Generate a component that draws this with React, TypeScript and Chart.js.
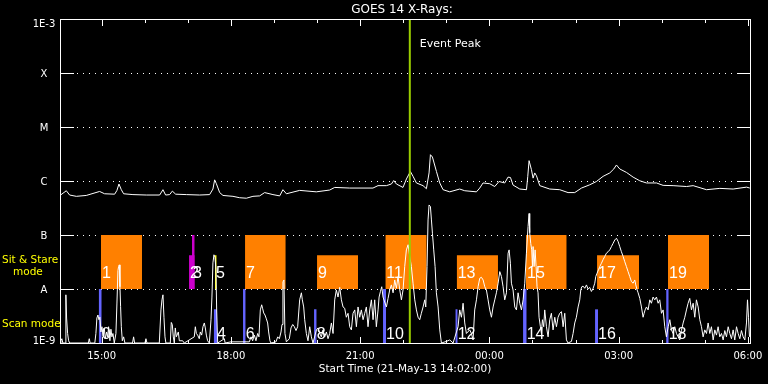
import React, { useEffect, useRef } from 'react';
import { Chart, registerables } from 'chart.js';

Chart.register(...registerables);

// ---- axis definitions (minutes after start 21-May-13 14:02:00) ----
const X_MIN = 0;
const X_MAX = 961;
const xMajorMinutes = [58, 238, 418, 598, 778, 958];
const xTickLabels = ['15:00', '18:00', '21:00', '00:00', '03:00', '06:00'];
const yTickValues = [1e-9, 1e-8, 1e-7, 1e-6, 1e-5, 1e-4, 1e-3];
const yTickLabels = ['1E-9', 'A', 'B', 'C', 'M', 'X', '1E-3'];

// ---- GOES long channel (1-8 A) ----
const longTimes = [
  0, 8.8, 13.4, 22.7, 36.6, 55.2, 62.1, 76.1, 79.3, 82.1,
  85.4, 88.6, 101.6, 120.2, 138.8, 143.4, 147.1, 152.7, 156.5, 161.1,
  176, 194.5, 208.4, 213, 215.4, 217.8, 222.4, 227, 240.9, 250.2,
  259.6, 268.7, 278.1, 285, 296.6, 306, 310.5, 315.3, 333.8, 357,
  375.6, 382.6, 403.5, 435.9, 442.9, 454.6, 461.6, 464.8, 468.5, 477.7,
  482.5, 488, 491.7, 496.4, 505.6, 510.3, 514, 515.9, 518.7, 524.3,
  528.9, 533.5, 542.8, 556.7, 563.7, 580, 584.6, 589.2, 598.5, 605.5,
  611.5, 619.4, 624, 627.4, 631, 640.4, 649.7, 651.5, 653.3, 656.6,
  658.9, 661.2, 663.6, 668.2, 682.1, 696, 707.6, 716.9, 726.3, 737.8,
  747.2, 756.4, 765.7, 771.3, 775, 779.6, 789, 798.2, 807.5, 816.8,
  830.8, 840, 853.9, 872.6, 881.8, 900.4, 919, 937.5, 956.2, 960.7,
];
const longFlux = [
  5.4e-7, 6.6e-7, 5.5e-7, 5.2e-7, 5.4e-7, 6.4e-7, 5.8e-7, 5.7e-7, 6.7e-7, 8.8e-7,
  6.9e-7, 5.8e-7, 5.6e-7, 5.5e-7, 5.5e-7, 6.9e-7, 5.5e-7, 5.6e-7, 6.5e-7, 5.7e-7,
  5.6e-7, 5.5e-7, 5.6e-7, 7.1e-7, 1.05e-6, 8.9e-7, 6.1e-7, 5.4e-7, 5.2e-7, 4.9e-7,
  4.8e-7, 5.2e-7, 5.3e-7, 6.1e-7, 5.6e-7, 5.3e-7, 6.9e-7, 5.8e-7, 6.7e-7, 6.3e-7,
  6.8e-7, 7.6e-7, 7.4e-7, 7.4e-7, 8.2e-7, 8.2e-7, 8.8e-7, 1.02e-6, 8.8e-7, 7.6e-7,
  1.09e-6, 1.5e-6, 1.22e-6, 9.2e-7, 8.2e-7, 7.2e-7, 1.41e-6, 3.07e-6, 2.78e-6, 1.5e-6,
  9.2e-7, 6.9e-7, 6.3e-7, 7.1e-7, 6.6e-7, 6.3e-7, 7.4e-7, 9.2e-7, 8.9e-7, 7.9e-7,
  9.8e-7, 9.2e-7, 1.18e-6, 1.16e-6, 8.4e-7, 7.1e-7, 6.9e-7, 1.22e-6, 2.38e-6, 1.62e-6,
  1.13e-6, 1.41e-6, 1.25e-6, 8.2e-7, 7.1e-7, 6.9e-7, 6.1e-7, 6.1e-7, 7.4e-7, 8.5e-7,
  9.8e-7, 1.22e-6, 1.41e-6, 1.67e-6, 1.98e-6, 1.67e-6, 1.44e-6, 1.18e-6, 1.01e-6, 9.2e-7,
  9.2e-7, 8.3e-7, 8.2e-7, 7.9e-7, 8.2e-7, 6.9e-7, 7.3e-7, 7.1e-7, 7.7e-7, 7.4e-7,
];

// ---- GOES short channel (0.5-4 A) ----
const shortTimes = [
  0, 1.3, 2.6, 4, 7, 8.2, 9.2, 10.6, 12, 13.4,
  39.5, 40.8, 42, 48.5, 50, 51.4, 52.8, 54.2, 55.6, 57,
  58.4, 60.3, 61.7, 63.1, 64.9, 66.3, 67.7, 69.5, 70.9, 72.3,
  73.7, 75.6, 77.9, 79.3, 80.7, 81.6, 82.6, 83.5, 84.4, 85.4,
  86.8, 88.6, 90.4, 101, 102.5, 103.9, 118.3, 119.7, 121.1, 138.3,
  140.6, 142, 143.4, 144.8, 146.2, 147.5, 153.6, 155, 156.4, 157.8,
  159.2, 160.6, 162, 164.8, 166.2, 170.8, 173.1, 187, 188.5, 189.9,
  191.7, 194, 195.4, 197.3, 199.1, 201, 202.4, 203.8, 205.6, 208,
  210.3, 211.6, 213, 214.4, 215.8, 217.2, 218.2, 219.6, 228.9, 230,
  238.1, 263.7, 266, 268.3, 270.7, 272.9, 275.3, 277.1, 279, 280.9,
  282.3, 283.7, 285.5, 287.4, 289.2, 290.6, 292.4, 293.8, 300.8, 303.2,
  305.5, 307.8, 309.2, 310.5, 311.9, 313.3, 315.3, 319.4, 321.7, 324.1,
  326.4, 328.7, 331, 333.8, 336.2, 337.5, 339.4, 340.8, 343.1, 345.4,
  347.8, 350.1, 352.4, 357.1, 359.4, 361.7, 364, 366.3, 368.7, 371,
  373.3, 375.6, 378, 380.3, 382.6, 384.9, 387.2, 389.6, 391.9, 394.2,
  396.5, 398.8, 401.2, 403.5, 405.8, 408.1, 410.5, 412.8, 415.1, 417.4,
  419.7, 422.1, 424.4, 426.7, 429, 431.4, 433.7, 436, 438.3, 440.6,
  443, 444.4, 446.2, 448.1, 449.9, 454.6, 456.9, 459.2, 461.5, 463.9,
  466.2, 468.5, 470.8, 473.2, 475.5, 477.8, 480.1, 482.4, 484.8, 487.1,
  489.4, 491.7, 494.1, 496.4, 498.7, 501, 503.3, 505.7, 508, 509.4,
  511.2, 512.6, 514, 515.9, 517.3, 518.7, 520.5, 522.4, 524.2, 526.6,
  528.9, 531.2, 538.2, 542.8, 547.5, 554.4, 556.7, 559.1, 561.4, 563.7,
  566, 570.7, 573, 575.3, 577.6, 580, 582.3, 584.6, 586.9, 589.3,
  591.6, 593.9, 596.2, 598.5, 600.9, 603.2, 605.5, 607.8, 610.2, 612.5,
  614.8, 617.1, 619.4, 621.8, 624.1, 625.5, 627.3, 628.7, 631, 633.4,
  635.7, 638, 640.3, 642.7, 645, 647.3, 649.6, 651.9, 653.3, 654.2,
  655.6, 657, 658, 658.9, 660.3, 661.7, 663.1, 664.4, 665.8, 667.2,
  669.1, 670.5, 671.9, 673.7, 675.1, 677.5, 679.8, 682.1, 684.4, 686.7,
  689.1, 691.4, 693.7, 696, 698.4, 700.7, 703, 705.3, 707.6, 712.3,
  714.6, 716.9, 719.2, 721.6, 723.9, 725.3, 726.7, 728.5, 730.9, 733.2,
  735.5, 737.8, 740.1, 742.5, 744.8, 746.2, 748, 749.9, 751.8, 754.1,
  756.4, 758.7, 761, 763.4, 765.7, 768, 770.3, 772.7, 775, 777.3,
  779.6, 781.9, 784.3, 786.6, 788.9, 791.2, 793.5, 795.9, 798.2, 800.5,
  801.9, 803.8, 805.2, 807.5, 809.8, 812.1, 813.5, 814.9, 816.8, 819.1,
  821.4, 823.7, 826, 828.4, 830.7, 833, 835.3, 837.7, 840, 842.3,
  844.6, 847, 849.3, 851.6, 853.9, 856.2, 858.6, 860.9, 863.2, 865.5,
  867.9, 870.2, 872.5, 874.8, 877.1, 879.5, 881.8, 884.1, 886.4, 888.8,
  891.1, 893.4, 895.7, 898, 900.4, 902.7, 905, 907.3, 909.7, 912,
  914.3, 916.6, 918.9, 921.3, 923.6, 925.9, 928.2, 930.6, 932.9, 935.2,
  937.5, 939.8, 942.2, 944.5, 946.8, 949.1, 951.5, 953.8, 956.1, 957.5,
  958.9, 960.3,
];
const shortFlux = [
  1.0e-9, 1.1e-9, 1.2e-9, 1.0e-9, 1.0e-9, 7.8e-9, 2.9e-9, 1.5e-9, 1.1e-9, 1.0e-9,
  1.0e-9, 1.2e-9, 1.0e-9, 1.0e-9, 1.5e-9, 2.9e-9, 3.3e-9, 2.7e-9, 3.0e-9, 1.6e-9,
  2.0e-9, 1.3e-9, 1.9e-9, 1.2e-9, 1.6e-9, 1.3e-9, 2.0e-9, 1.1e-9, 1.8e-9, 1.3e-9,
  1.5e-9, 1.0e-9, 1.5e-9, 5.5e-9, 2.2e-8, 2.6e-8, 2.8e-8, 1.1e-8, 4.7e-9, 2.0e-9,
  1.1e-9, 1.3e-9, 1.0e-9, 1.0e-9, 1.3e-9, 1.0e-9, 1.0e-9, 1.2e-9, 1.0e-9, 1.0e-9,
  4.1e-9, 6.3e-9, 7.8e-9, 3.0e-9, 1.3e-9, 1.0e-9, 1.0e-9, 2.4e-9, 2.2e-9, 1.3e-9,
  1.0e-9, 1.9e-9, 1.3e-9, 1.6e-9, 1.1e-9, 1.1e-9, 1.0e-9, 1.3e-9, 2.0e-9, 1.5e-9,
  1.4e-9, 1.2e-9, 1.6e-9, 1.4e-9, 2.0e-9, 2.35e-9, 1.9e-9, 1.4e-9, 1.1e-9, 1.0e-9,
  2.7e-9, 7.1e-9, 3.05e-8, 4.3e-8, 3.9e-8, 2.3e-8, 4.1e-9, 1.0e-9, 1.2e-9, 1.0e-9,
  1.05e-9, 1.05e-9, 1.3e-9, 1.1e-9, 1.4e-9, 1.1e-9, 1.5e-9, 1.3e-9, 4.1e-9, 5.1e-9,
  4.3e-9, 3.6e-9, 3.3e-9, 2.8e-9, 2.35e-9, 1.6e-9, 1.1e-9, 1.0e-9, 1.05e-9, 1.3e-9,
  1.2e-9, 1.6e-9, 2.2e-9, 1.35e-8, 1.47e-8, 1.5e-9, 1.05e-9, 1.2e-9, 1.9e-9, 2.2e-9,
  2.0e-9, 1.7e-9, 2.0e-9, 6.3e-9, 8.5e-9, 6.3e-9, 4.65e-9, 2.7e-9, 1.5e-9, 1.1e-9,
  2.0e-9, 1.3e-9, 1.0e-9, 1.75e-9, 1.9e-9, 1.5e-9, 1.3e-9, 1.75e-9, 1.3e-9, 1.6e-9,
  1.2e-9, 1.5e-9, 2.35e-9, 1.5e-9, 6.3e-9, 9.6e-9, 7.1e-9, 1.07e-8, 6.3e-9, 4.65e-9,
  4.4e-9, 3.0e-9, 3.55e-9, 2.0e-9, 1.75e-9, 3.55e-9, 4.1e-9, 2.0e-9, 4.65e-9, 3.0e-9,
  4.1e-9, 2.7e-9, 3.55e-9, 4.65e-9, 2.0e-9, 4.1e-9, 6.3e-9, 2.7e-9, 6.3e-9, 2.0e-9,
  4.1e-9, 7.1e-9, 8.9e-9, 1.1e-8, 7.1e-9, 4.65e-9, 6.7e-9, 9.6e-9, 1.19e-8, 8.5e-9,
  1.47e-8, 1.03e-8, 1.7e-8, 9.6e-9, 6.3e-9, 9.6e-9, 2.6e-8, 5.3e-8, 6.6e-8, 4.0e-8,
  2.6e-8, 1.28e-8, 6.3e-9, 4.1e-9, 3.0e-9, 2.7e-9, 3.55e-9, 4.65e-9, 6.3e-9, 4.65e-9,
  2.6e-8, 1.9e-7, 3.6e-7, 3.37e-7, 1.9e-7, 1.08e-7, 5.3e-8, 2.6e-8, 8.5e-9, 4.65e-9,
  1.75e-9, 1.0e-9, 1.07e-9, 1.14e-9, 1.0e-9, 2.0e-9, 4.1e-9, 3.0e-9, 5.45e-9, 2.35e-9,
  1.5e-9, 1.75e-9, 1.5e-9, 1.14e-9, 4.1e-9, 6.3e-9, 1.1e-8, 1.58e-8, 1.65e-8, 1.47e-8,
  1.1e-8, 9.6e-9, 6.3e-9, 4.1e-9, 3.0e-9, 4.65e-9, 6.3e-9, 8.5e-9, 1.28e-8, 2.1e-8,
  1.7e-8, 1.1e-8, 6.3e-9, 8.5e-9, 4.6e-8, 5.3e-8, 3.0e-8, 1.28e-8, 9.6e-9, 4.65e-9,
  4.1e-9, 8.5e-9, 5.45e-9, 4.1e-9, 6.3e-9, 1.28e-8, 4.6e-8, 1.43e-7, 2.5e-7, 1.1e-7,
  7.0e-8, 5.3e-8, 2.6e-8, 6.1e-8, 2.6e-8, 5.3e-8, 2.6e-8, 1.1e-8, 8.5e-9, 3.0e-9,
  2.0e-9, 1.5e-9, 2.7e-9, 2.0e-9, 4.1e-9, 2.0e-9, 1.3e-9, 2.7e-9, 3.55e-9, 1.75e-9,
  3.0e-9, 2.0e-9, 3.0e-9, 3.55e-9, 3.8e-9, 2.0e-9, 3.55e-9, 1.14e-9, 1.0e-9, 1.07e-9,
  1.5e-9, 2.35e-9, 3.0e-9, 4.65e-9, 6.3e-9, 9.6e-9, 1.1e-8, 1.13e-8, 1.03e-8, 1.19e-8,
  1.0e-8, 1.07e-8, 9.0e-9, 1.03e-8, 1.28e-8, 1.7e-8, 1.96e-8, 2.26e-8, 2.6e-8, 3.0e-8,
  3.5e-8, 4.0e-8, 4.6e-8, 4.9e-8, 5.3e-8, 6.1e-8, 7.0e-8, 8.1e-8, 8.7e-8, 7.6e-8,
  6.1e-8, 4.9e-8, 4.0e-8, 3.2e-8, 2.6e-8, 2.1e-8, 1.7e-8, 1.37e-8, 1.28e-8, 1.47e-8,
  1.19e-8, 9.6e-9, 8.5e-9, 6.7e-9, 4.65e-9, 3.0e-9, 3.55e-9, 4.1e-9, 4.65e-9, 4.1e-9,
  6.3e-9, 5.45e-9, 7.1e-9, 6.3e-9, 7.1e-9, 5.45e-9, 6.3e-9, 3.55e-9, 4.1e-9, 2.0e-9,
  1.3e-9, 2.0e-9, 2.7e-9, 1.75e-9, 1.5e-9, 2.0e-9, 1.5e-9, 1.3e-9, 1.14e-9, 1.7e-9,
  2.35e-9, 3.0e-9, 4.1e-9, 5.45e-9, 6.7e-9, 4.1e-9, 5.45e-9, 3.0e-9, 6.3e-9, 4.65e-9,
  2.7e-9, 2.0e-9, 1.3e-9, 1.75e-9, 1.5e-9, 2.35e-9, 1.5e-9, 2.0e-9, 1.14e-9, 1.75e-9,
  1.4e-9, 2.0e-9, 1.3e-9, 1.5e-9, 1.14e-9, 1.7e-9, 1.3e-9, 2.0e-9, 1.5e-9, 1.2e-9,
  1.75e-9, 1.14e-9, 2.0e-9, 1.5e-9, 1.2e-9, 1.7e-9, 1.3e-9, 1.14e-9, 2.35e-9, 6.3e-9,
  3.0e-9, 1.3e-9,
];

// ---- Sit & Stare mode intervals (orange) ----
const sitStareLabels = ['1', '7', '9', '11', '13', '15', '17', '19'];
const sitStareStart = [57.1, 257.7, 358, 453.1, 552.5, 649, 748, 846.8];
const sitStareEnd = [114.2, 314.4, 415.1, 510.7, 610, 705.7, 806.5, 903.9];
const sitStareTop = [1e-7, 1e-7, 4.2e-8, 1e-7, 4.2e-8, 1e-7, 4.2e-8, 1e-7];
const sitStareBase = 1e-8;

// ---- other narrow pointings (magenta / yellow) ----
const extraLabels = ['2', '3', '5'];
const extraStart = [179.7, 183.8, 215.8];
const extraEnd = [187.6, 187.6, 218.2];
const extraTop = [4.2e-8, 1e-7, 4.2e-8];
const extraColors = ['#cc00cc', '#cc00cc', '#ffff00'];

// ---- Scan mode intervals (blue) ----
const scanLabels = ['0', '4', '6', '8', '10', '12', '14', '16', '18'];
const scanStart = [53.9, 214.1, 254.9, 353.8, 449.9, 550.6, 644.9, 745.2, 844.2];
const scanEnd = [58.1, 218.7, 258.6, 357.5, 454.1, 553.9, 650, 749.3, 847.8];
const scanTop = [1e-8, 4.2e-9, 1e-8, 4.2e-9, 1e-8, 4.2e-9, 1e-8, 4.2e-9, 1e-8];
const scanBase = 1e-9;

const eventPeakMinute = 487.2;

const ORANGE = '#ff8000';
const BLUE = '#6464ff';
const GREEN = '#9acd00';
const AXIS_FONT = '10px "DejaVu Sans"';

const goesPlugin = {
  id: 'goesDecor',
  beforeDraw(chart: any) {
    const ctx = chart.ctx;
    ctx.save();
    ctx.fillStyle = '#000';
    ctx.fillRect(0, 0, chart.width, chart.height);
    ctx.restore();
  },
  beforeDatasetsDraw(chart: any) {
    const { ctx, chartArea: a } = chart;
    const y = chart.scales.y;
    ctx.save();
    ctx.fillStyle = '#fff';
    yTickValues.forEach((v, i) => {
      if (i === 0 || i === yTickValues.length - 1) return;
      const py = Math.round(y.getPixelForValue(v));
      for (let px = a.left + 17; px < a.right - 15; px += 6) ctx.fillRect(px, py, 1, 1);
    });
    ctx.restore();
  },
  afterDatasetsDraw(chart: any) {
    const { ctx, chartArea: a } = chart;
    const x = chart.scales.x;
    const y = chart.scales.y;
    const L = Math.round(a.left), R = Math.round(a.right);
    const T = Math.round(a.top), B = Math.round(a.bottom);
    ctx.save();
    ctx.fillStyle = '#fff';
    // frame
    ctx.fillRect(L, T, R - L + 1, 1);
    ctx.fillRect(L, B, R - L + 1, 1);
    ctx.fillRect(L, T, 1, B - T + 1);
    ctx.fillRect(R, T, 1, B - T + 1);
    // y major ticks
    yTickValues.forEach((v) => {
      const py = Math.round(y.getPixelForValue(v));
      ctx.fillRect(L, py, 14, 1);
      ctx.fillRect(R - 13, py, 14, 1);
    });
    // x ticks (hourly, major every 3 h)
    for (let t = xMajorMinutes[0]; t <= X_MAX; t += 60) {
      const px = Math.round(x.getPixelForValue(t));
      const major = xMajorMinutes.includes(t);
      const len = major ? 7 : 4;
      ctx.fillRect(px, T, 1, len);
      ctx.fillRect(px, B - len + 1, 1, len);
    }
    // y labels
    ctx.font = AXIS_FONT;
    ctx.textAlign = 'center';
    ctx.textBaseline = 'alphabetic';
    yTickValues.forEach((v, i) => {
      const py = y.getPixelForValue(v);
      let base = py + 4;
      if (i === yTickValues.length - 1) base = py + 7.5;
      if (i === 0) base = py + 0.5;
      ctx.fillText(yTickLabels[i], L - 16, base);
    });
    // x labels
    xMajorMinutes.forEach((t, i) => {
      ctx.fillText(xTickLabels[i], x.getPixelForValue(t), B + 16);
    });
    // axis title
    ctx.font = '10.5px "DejaVu Sans"';
    ctx.fillText('Start Time (21-May-13 14:02:00)', (L + R) / 2, B + 29);
    // chart title
    ctx.font = '12px "DejaVu Sans"';
    ctx.fillText('GOES 14 X-Rays:', (L + R) / 2 - 3, T - 6);
    // event peak label
    ctx.font = '11px "DejaVu Sans"';
    ctx.textAlign = 'left';
    ctx.fillText('Event Peak', x.getPixelForValue(eventPeakMinute) + 10, T + 28);
    // number labels
    ctx.font = '16px "Liberation Sans", Arial, sans-serif';
    const upperBase = y.getPixelForValue(sitStareBase) - 11;
    sitStareLabels.forEach((lab, i) => {
      ctx.fillText(lab, x.getPixelForValue(sitStareStart[i]) + 1, upperBase);
    });
    extraLabels.forEach((lab, i) => {
      ctx.fillText(lab, x.getPixelForValue(extraStart[i]) + 1, upperBase);
    });
    scanLabels.forEach((lab, i) => {
      ctx.fillText(lab, x.getPixelForValue(scanEnd[i]), B - 4);
    });
    // mode captions
    ctx.fillStyle = '#ffff00';
    ctx.font = '10.5px "DejaVu Sans"';
    ctx.fillText('Sit & Stare', 2, upperBase - 15);
    ctx.fillText('mode', 13, upperBase - 3);
    ctx.fillText('Scan mode', 2, B - 16);
    ctx.restore();
  },
};

function rectDataset(x0: number, x1: number, top: number, base: number, color: string, order: number) {
  return {
    type: 'line' as const,
    data: [{ x: x0, y: top }, { x: x1, y: top }],
    borderColor: 'rgba(0,0,0,0)',
    borderWidth: 0,
    backgroundColor: color,
    fill: { value: base },
    pointRadius: 0,
    order,
  };
}

export default function App() {
  const canvasRef = useRef<HTMLCanvasElement | null>(null);

  useEffect(() => {
    document.body.style.margin = '0';
    document.body.style.background = '#000';
    const canvas = canvasRef.current;
    if (!canvas) return;

    const datasets: any[] = [];
    sitStareStart.forEach((s, i) => {
      datasets.push(rectDataset(s, sitStareEnd[i], sitStareTop[i], sitStareBase, ORANGE, 20));
    });
    extraStart.forEach((s, i) => {
      datasets.push(rectDataset(s, extraEnd[i], extraTop[i], sitStareBase, extraColors[i], 19));
    });
    scanStart.forEach((s, i) => {
      datasets.push(rectDataset(s, scanEnd[i], scanTop[i], scanBase, BLUE, 18));
    });
    datasets.push({
      type: 'line',
      data: shortTimes.map((t, i) => ({ x: t, y: shortFlux[i] })),
      borderColor: '#ffffff',
      borderWidth: 1,
      pointRadius: 0,
      fill: false,
      order: 5,
    });
    datasets.push({
      type: 'line',
      data: longTimes.map((t, i) => ({ x: t, y: longFlux[i] })),
      borderColor: '#ffffff',
      borderWidth: 1,
      pointRadius: 0,
      fill: false,
      order: 4,
    });
    datasets.push({
      type: 'line',
      data: [{ x: eventPeakMinute, y: 1e-9 }, { x: eventPeakMinute, y: 1e-3 }],
      borderColor: GREEN,
      borderWidth: 2,
      pointRadius: 0,
      fill: false,
      order: 1,
    });

    const chart = new Chart(canvas, {
      type: 'line',
      data: { datasets },
      options: {
        responsive: false,
        animation: false,
        devicePixelRatio: 1,
        events: [],
        layout: { padding: { left: 60, top: 19, right: 18, bottom: 41 } },
        scales: {
          x: { type: 'linear', min: X_MIN, max: X_MAX, display: false },
          y: { type: 'logarithmic', min: 1e-9, max: 1e-3, display: false },
        },
        plugins: {
          legend: { display: false },
          tooltip: { enabled: false },
          title: { display: false },
        },
        elements: { line: { tension: 0 }, point: { radius: 0 } },
      } as any,
      plugins: [goesPlugin],
    });

    return () => chart.destroy();
  }, []);

  return <canvas ref={canvasRef} width={768} height={384} style={{ display: 'block' }} />;
}
